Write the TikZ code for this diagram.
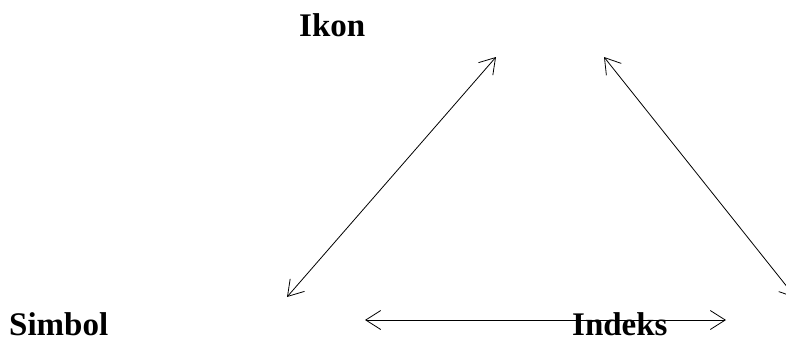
\documentclass[tikz,border=0pt]{standalone}
\usepackage{fontspec}
\setmainfont{Liberation Serif}
\usetikzlibrary{arrows.meta}
\tikzset{
  lbl/.style={font=\fontsize{33}{39}\selectfont\bfseries, inner sep=0pt, anchor=base west},
  conn/.style={line width=0.8pt, {Straight Barb[length=15pt,width=19pt,line width=0.8pt]}-{Straight Barb[length=15pt,width=19pt,line width=0.8pt]}}
}
\begin{document}
\begin{tikzpicture}[x=1pt,y=-1pt]
\useasboundingbox (0,0) rectangle (786,338);
\begin{scope}
\clip (0,0) rectangle (786,338);
\node[lbl] (ikon) at (299,36) {Ikon};
\node[lbl] (simbol) at (9,335) {Simbol};
\node[lbl] (indeks) at (572,335) {Indeks};
\coordinate (a1) at (287,297);
\coordinate (a2) at (496,57);
\coordinate (b1) at (604,57);
\coordinate (b2) at (796,298);
\coordinate (c1) at (365,320);
\coordinate (c2) at (726,320);
\draw[conn] (a1) -- (a2);
\draw[conn] (b1) -- (b2);
\draw[conn] (c1) -- (c2);
\end{scope}
\end{tikzpicture}
\end{document}
